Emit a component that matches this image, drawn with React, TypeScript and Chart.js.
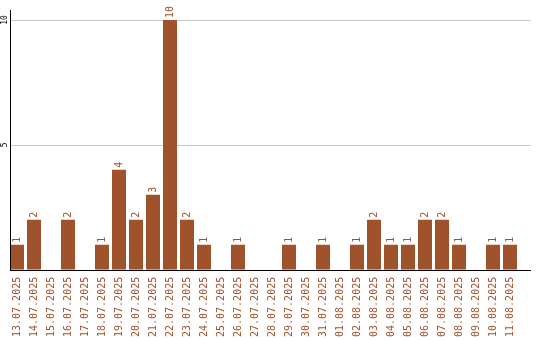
import React, { useEffect, useRef } from "react";
import { Chart, registerables } from "chart.js";

Chart.register(...registerables);

const categories: string[] = [
  "13.07.2025", "14.07.2025", "15.07.2025", "16.07.2025", "17.07.2025",
  "18.07.2025", "19.07.2025", "20.07.2025", "21.07.2025", "22.07.2025",
  "23.07.2025", "24.07.2025", "25.07.2025", "26.07.2025", "27.07.2025",
  "28.07.2025", "29.07.2025", "30.07.2025", "31.07.2025", "01.08.2025",
  "02.08.2025", "03.08.2025", "04.08.2025", "05.08.2025", "06.08.2025",
  "07.08.2025", "08.08.2025", "09.08.2025", "10.08.2025", "11.08.2025",
];

const counts: number[] = [
  1, 2, 0, 2, 0,
  1, 4, 2, 3, 10,
  2, 1, 0, 1, 0,
  0, 1, 0, 1, 0,
  1, 2, 1, 1, 2,
  2, 1, 0, 1, 1,
];

const yTickValues: number[] = [5, 10];
const yTickLabels: string[] = ["5", "10"];

const BAR_COLOR = "#A0522D";
const GRID_COLOR = "#c8c8c8";
const MONO = "'DejaVu Sans Mono', 'Liberation Mono', monospace";

const decorPlugin = {
  id: "decor",
  beforeDatasetsDraw(chart: any) {
    const { ctx, chartArea, scales } = chart;
    const y = scales.y;
    ctx.save();
    ctx.fillStyle = GRID_COLOR;
    const axisX = Math.round(chartArea.left + 1.5);
    yTickValues.forEach((v) => {
      const py = Math.round(y.getPixelForValue(v));
      ctx.fillRect(axisX + 1, py, 531 - axisX - 1, 1);
    });
    ctx.restore();
  },
  afterDatasetsDraw(chart: any) {
    const { ctx, chartArea, scales } = chart;
    const y = scales.y;
    ctx.save();
    const axisX = Math.round(chartArea.left + 1.5);
    const baseY = Math.round(y.getPixelForValue(0));
    ctx.fillStyle = "#000";
    ctx.fillRect(axisX, Math.round(chartArea.top), 1, baseY - Math.round(chartArea.top) + 1);
    ctx.fillRect(axisX, baseY, 531 - axisX, 1);

    ctx.fillStyle = "#000";
    ctx.font = `8px ${MONO}`;
    ctx.textAlign = "center";
    ctx.textBaseline = "middle";
    yTickValues.forEach((v, i) => {
      const py = y.getPixelForValue(v);
      ctx.save();
      ctx.translate(5, py);
      ctx.rotate(-Math.PI / 2);
      ctx.fillText(yTickLabels[i], 0, 0);
      ctx.restore();
    });

    const meta = chart.getDatasetMeta(0);
    ctx.fillStyle = BAR_COLOR;
    ctx.font = `10px ${MONO}`;
    ctx.textAlign = "left";
    ctx.textBaseline = "middle";
    meta.data.forEach((bar: any, i: number) => {
      const v = counts[i];
      if (!v) return;
      ctx.save();
      ctx.translate(bar.x + 0.5, bar.y - 2);
      ctx.rotate(-Math.PI / 2);
      ctx.fillText(String(v), 0, 0);
      ctx.restore();
    });
    ctx.restore();
  },
};

export default function App() {
  const canvasRef = useRef<HTMLCanvasElement | null>(null);

  useEffect(() => {
    if (!canvasRef.current) return;
    const chart = new Chart(canvasRef.current, {
      type: "bar",
      data: {
        labels: categories,
        datasets: [
          {
            data: counts,
            backgroundColor: BAR_COLOR,
            borderWidth: 0,
            barPercentage: 14 / 17,
            categoryPercentage: 1,
          },
        ],
      },
      options: {
        responsive: false,
        animation: false,
        events: [],
        layout: { padding: { left: 8.5, right: 21.5, top: 10, bottom: -4 } },
        plugins: {
          legend: { display: false },
          tooltip: { enabled: false },
        },
        scales: {
          x: {
            display: true,
            offset: true,
            grid: { display: false, drawTicks: false },
            border: { display: false },
            ticks: {
              minRotation: 90,
              maxRotation: 90,
              autoSkip: false,
              padding: 7,
              color: BAR_COLOR,
              font: { family: MONO, size: 10 },
            },
          },
          y: {
            display: false,
            min: 0,
            max: 10.4,
          },
        },
      },
      plugins: [decorPlugin],
    });
    return () => chart.destroy();
  }, []);

  return (
    <div style={{ position: "fixed", left: 0, top: 0, width: 540, height: 340, background: "#fff" }}>
      <canvas ref={canvasRef} width={540} height={340} style={{ display: "block" }} />
    </div>
  );
}
